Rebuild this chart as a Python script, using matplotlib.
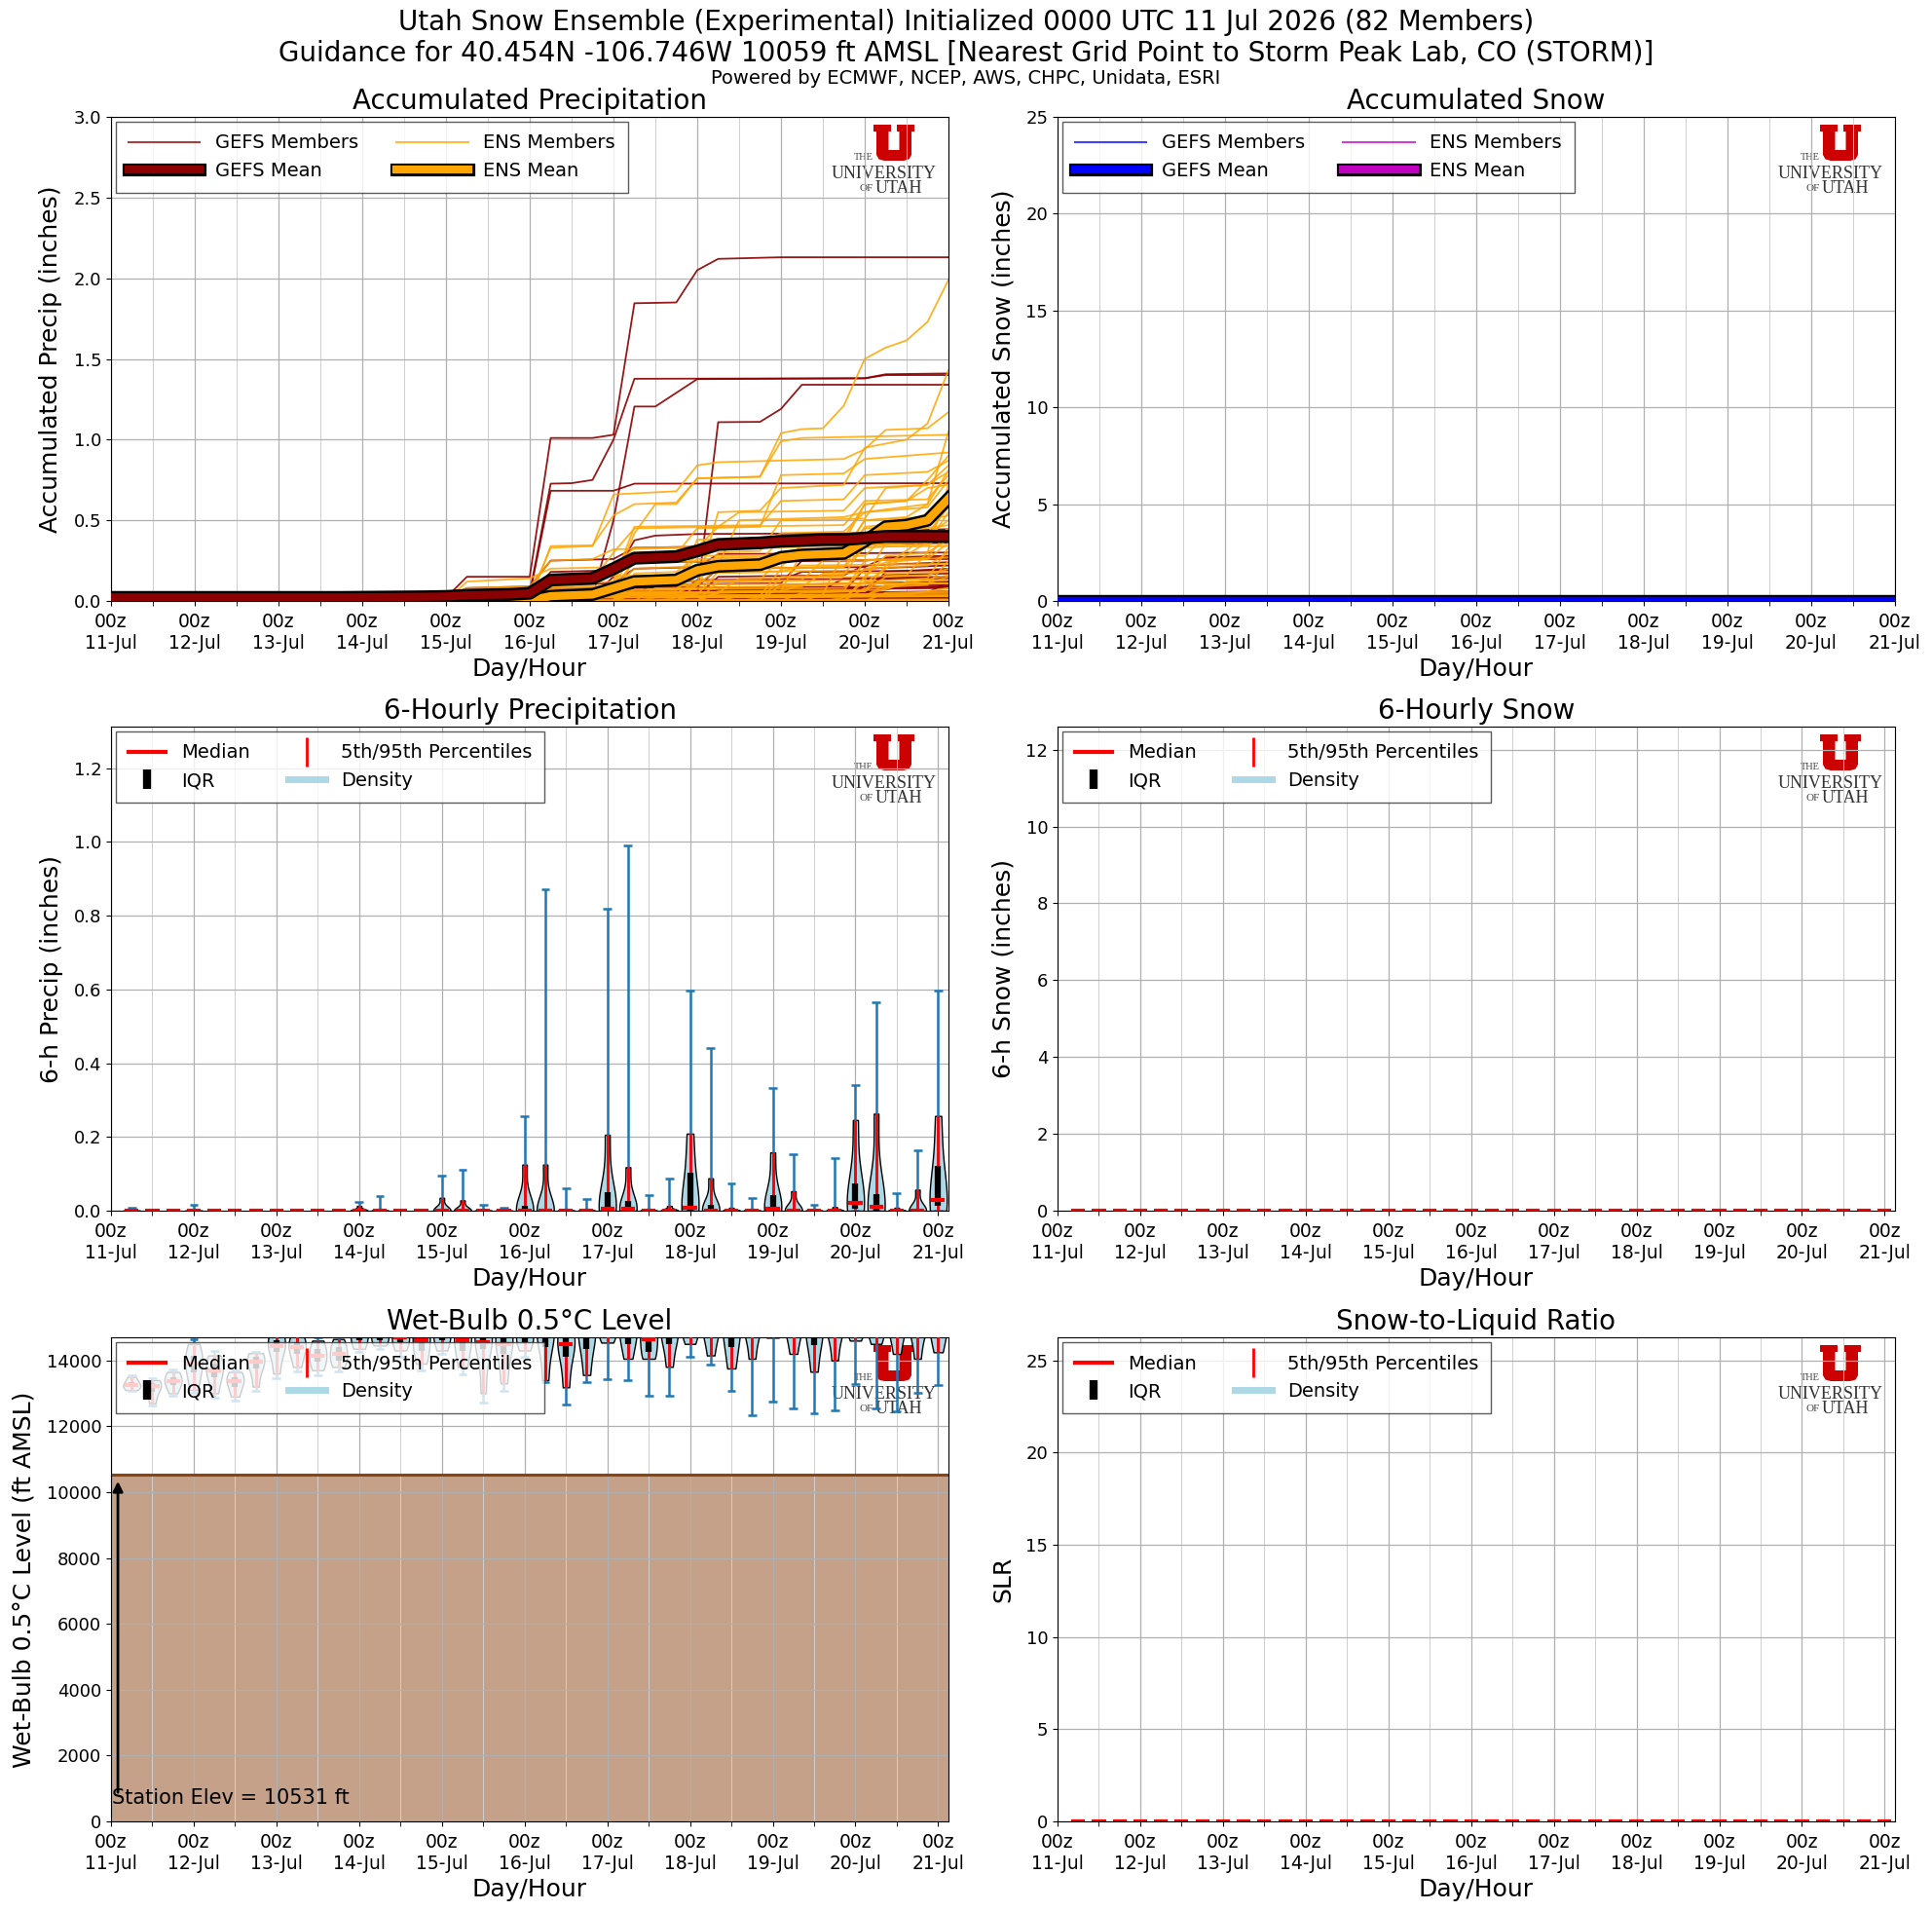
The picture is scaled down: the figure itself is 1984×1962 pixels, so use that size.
import numpy as np
import matplotlib
matplotlib.use('Agg')
import matplotlib.pyplot as plt
import matplotlib.patheffects as pe
from matplotlib.lines import Line2D
from matplotlib.patches import Polygon

plt.rcParams['font.family'] = ['DejaVu Sans']

# ---------------------------------------------------------------- data
DAY_LABELS = ['11-Jul', '12-Jul', '13-Jul', '14-Jul', '15-Jul', '16-Jul',
              '17-Jul', '18-Jul', '19-Jul', '20-Jul', '21-Jul']
MAJOR_HOURS = [0, 24, 48, 72, 96, 120, 144, 168, 192, 216, 240]
MINOR_HOURS = [12, 36, 60, 84, 108, 132, 156, 180, 204, 228]
MEAN_HOURS = [0, 6, 12, 18, 24, 30, 36, 42, 48, 54, 60, 66, 72, 78, 84, 90,
              96, 102, 108, 114, 120, 126, 132, 138, 144, 150, 156, 162, 168,
              174, 180, 186, 192, 198, 204, 210, 216, 222, 228, 234, 240]
PERIOD_HOURS = [6, 12, 18, 24, 30, 36, 42, 48, 54, 60, 66, 72, 78, 84, 90,
                96, 102, 108, 114, 120, 126, 132, 138, 144, 150, 156, 162,
                168, 174, 180, 186, 192, 198, 204, 210, 216, 222, 228, 234, 240]

GEFS_MEAN = [0.022, 0.022, 0.022, 0.022, 0.022, 0.022, 0.022, 0.022, 0.022,
             0.022, 0.022, 0.022, 0.023, 0.024, 0.025, 0.026, 0.028, 0.035,
             0.038, 0.040, 0.048, 0.130, 0.135, 0.140, 0.200, 0.265, 0.270,
             0.275, 0.310, 0.350, 0.355, 0.360, 0.370, 0.375, 0.380, 0.380,
             0.390, 0.400, 0.400, 0.400, 0.400]
ENS_MEAN = [0.0, 0.0, 0.0, 0.0, 0.0, 0.0, 0.0, 0.0, 0.0, 0.0, 0.0, 0.0, 0.0,
            0.0, 0.0, 0.0, 0.001, 0.001, 0.001, 0.002, 0.003, 0.030, 0.035,
            0.040, 0.080, 0.120, 0.125, 0.130, 0.190, 0.215, 0.220, 0.225,
            0.270, 0.285, 0.290, 0.295, 0.370, 0.460, 0.470, 0.500, 0.635]

# member breakpoints: (hour, accumulated inches)
GEFS_MEMBERS = [
    [(0, .02), (96, .02), (102, .15), (120, .15), (126, 1.01), (138, 1.01), (144, 1.03), (150, 1.845), (162, 1.85), (168, 2.05), (174, 2.12), (192, 2.13), (240, 2.13)],
    [(0, .02), (114, .02), (120, .05), (126, .727), (132, .73), (138, .75), (144, 1.0), (150, 1.377), (216, 1.38), (222, 1.40), (240, 1.40)],
    [(0, .02), (114, .02), (120, .04), (126, .683), (144, .683), (150, .727), (240, .73)],
    [(0, .02), (162, .02), (168, .03), (174, 1.108), (186, 1.11), (192, 1.19), (198, 1.34), (240, 1.34)],
    [(0, .02), (138, .03), (144, .5), (150, 1.205), (156, 1.205), (162, 1.29), (168, 1.375), (216, 1.38), (222, 1.405), (240, 1.41)],
    [(0, .02), (138, .03), (144, .15), (150, .376), (156, .405), (168, .415), (216, .42), (222, .435), (240, .445)],
    [(0, .02), (96, .02), (102, .08), (120, .09), (126, .25), (144, .26), (150, .33), (240, .36)],
    [(0, .02), (120, .03), (126, .10), (144, .11), (150, .20), (168, .21), (174, .29), (240, .30)],
    [(0, .02), (144, .02), (150, .08), (168, .09), (174, .20), (216, .21), (222, .27), (240, .28)],
    [(0, .02), (120, .03), (126, .05), (210, .06), (216, .20), (240, .22)],
    [(0, .02), (150, .03), (156, .12), (192, .13), (198, .18), (240, .19)],
    [(0, .02), (168, .02), (174, .07), (216, .08), (222, .16), (240, .17)],
    [(0, .02), (126, .03), (132, .06), (204, .07), (210, .14), (240, .15)],
    [(0, .02), (186, .02), (192, .10), (240, .12)],
    [(0, .02), (144, .03), (150, .06), (222, .07), (228, .10), (240, .10)],
    [(0, .02), (240, .03)],
    [(0, .02), (120, .02), (126, .04), (240, .05)],
    [(0, .02), (198, .02), (204, .05), (240, .06)],
    [(0, .01), (240, .015)],
    [(0, .02), (150, .02), (156, .04), (216, .05), (222, .08), (240, .09)],
    [(0, .02), (120, .03), (126, .18), (144, .19), (150, .24), (216, .25), (222, .26), (240, .27)],
    [(0, .02), (168, .03), (174, .15), (210, .16), (216, .22), (240, .24)],
    [(0, .02), (144, .02), (150, .10), (192, .11), (198, .25), (240, .26)],
    [(0, .03), (228, .03), (234, .05), (240, .12)],
    [(0, .02), (180, .02), (186, .04), (240, .05)],
    [(0, .02), (114, .02), (120, .06), (126, .08), (240, .09)],
    [(0, .02), (162, .03), (168, .13), (240, .14)],
    [(0, .02), (210, .02), (216, .04), (240, .04)],
    [(0, .01), (240, .02)],
    [(0, .02), (156, .02), (162, .03), (216, .04), (222, .18), (240, .20)],
    [(0, .02), (132, .02), (138, .04), (186, .05), (192, .07), (240, .08)],
]

ENS_MEMBERS = [
    [(0, 0), (120, 0), (126, .34), (138, .345), (144, .53), (150, .60), (162, .61), (168, .76), (186, .77), (192, 1.04), (198, 1.065), (204, 1.07), (210, 1.21), (216, 1.50), (222, 1.57), (228, 1.615), (234, 1.73), (240, 1.99)],
    [(0, 0), (138, .02), (144, .10), (150, .42), (156, .60), (162, .60), (168, .76), (186, .77), (192, .99), (198, 1.01), (240, 1.03)],
    [(0, 0), (114, 0), (120, .02), (126, .33), (138, .34), (144, .66), (162, .68), (168, .84), (174, .86), (210, .88), (216, .94), (222, 1.06), (234, 1.07), (240, 1.17)],
    [(0, 0), (162, .05), (168, .10), (174, .55), (186, .56), (192, .70), (210, .72), (216, .95), (228, 1.0), (234, 1.10), (240, 1.43)],
    [(0, 0), (144, 0), (150, .28), (162, .29), (168, .45), (186, .46), (192, .78), (210, .79), (216, .88), (240, .92)],
    [(0, 0), (120, 0), (126, .10), (144, .12), (150, .46), (186, .47), (192, .62), (210, .63), (216, .78), (234, .80), (240, .87)],
    [(0, 0), (96, 0), (102, .12), (120, .14), (126, .20), (144, .21), (150, .33), (186, .34), (192, .42), (210, .43), (216, .55), (234, .60), (240, .81)],
    [(0, 0), (138, 0), (144, .08), (150, .20), (174, .22), (180, .50), (210, .52), (216, .55), (234, .58), (240, .75)],
    [(0, 0), (120, 0), (126, .05), (162, .06), (168, .38), (210, .39), (216, .60), (228, .62), (234, .70), (240, .72)],
    [(0, 0), (144, 0), (150, .15), (168, .16), (174, .27), (210, .28), (216, .46), (234, .50), (240, .65)],
    [(0, 0), (168, 0), (174, .05), (192, .06), (198, .30), (210, .31), (216, .50), (234, .52), (240, .59)],
    [(0, 0), (120, 0), (126, .08), (144, .09), (150, .24), (186, .25), (192, .38), (216, .39), (222, .45), (240, .53)],
    [(0, 0), (102, 0), (108, .04), (120, .05), (126, .15), (162, .16), (168, .26), (210, .27), (216, .40), (240, .47)],
    [(0, 0), (150, 0), (156, .02), (186, .03), (192, .20), (210, .21), (216, .33), (234, .35), (240, .41)],
    [(0, 0), (126, 0), (132, .04), (162, .05), (168, .12), (198, .13), (204, .25), (234, .26), (240, .36)],
    [(0, 0), (144, 0), (150, .07), (210, .08), (216, .20), (234, .22), (240, .30)],
    [(0, 0), (120, 0), (126, .03), (168, .04), (174, .18), (216, .19), (222, .24), (240, .27)],
    [(0, 0), (210, 0), (216, .08), (234, .10), (240, .25)],
    [(0, 0), (144, 0), (150, .05), (216, .06), (222, .15), (234, .16), (240, .20)],
    [(0, 0), (186, 0), (192, .10), (234, .11), (240, .15)],
    [(0, 0), (120, 0), (126, .02), (240, .03)],
    [(0, 0), (168, 0), (174, .06), (222, .07), (228, .12), (240, .13)],
    [(0, 0), (216, 0), (222, .05), (240, .06)],
    [(0, 0), (240, .01)],
    [(0, 0), (144, 0), (150, .10), (162, .11), (168, .20), (192, .21), (198, .35), (210, .36), (216, .60), (228, .62), (234, .75), (240, .90)],
    [(0, 0), (120, 0), (126, .12), (138, .13), (144, .30), (150, .45), (174, .46), (180, .55), (210, .56), (216, .70), (234, .72), (240, .84)],
    [(0, 0), (162, 0), (168, .10), (174, .20), (210, .21), (216, .40), (228, .42), (234, .55), (240, .66)],
    [(0, 0), (96, 0), (102, .08), (120, .09), (126, .25), (138, .26), (144, .32), (168, .33), (174, .46), (210, .47), (216, .62), (234, .63), (240, .78)],
    [(0, 0), (186, 0), (192, .15), (210, .16), (216, .35), (234, .36), (240, .55)],
    [(0, 0), (144, 0), (150, .04), (174, .05), (180, .14), (216, .15), (222, .28), (234, .30), (240, .38)],
    [(0, 0), (120, 0), (126, .06), (162, .07), (168, .17), (192, .18), (198, .22), (240, .23)],
    [(0, 0), (150, 0), (156, .08), (198, .09), (204, .17), (240, .18)],
    [(0, 0), (126, 0), (132, .02), (216, .03), (222, .10), (240, .11)],
    [(0, 0), (174, 0), (180, .03), (240, .04)],
    [(0, 0), (204, 0), (210, .02), (216, .12), (234, .14), (240, .33)],
    [(0, 0), (138, 0), (144, .05), (192, .06), (198, .10), (216, .11), (222, .20), (240, .45)],
    [(0, 0), (120, 0), (126, .09), (168, .10), (174, .30), (186, .31), (192, .50), (216, .51), (222, .70), (234, .72), (240, .80)],
    [(0, 0), (144, 0), (150, .17), (162, .18), (168, .28), (210, .29), (216, .45), (234, .46), (240, .69)],
    [(0, 0), (168, 0), (174, .12), (216, .13), (222, .36), (234, .38), (240, .62)],
    [(0, 0), (192, 0), (198, .05), (216, .06), (222, .22), (240, .50)],
    [(0, 0), (120, 0), (126, .04), (144, .05), (150, .10), (240, .11)],
    [(0, 0), (156, 0), (162, .02), (240, .03)],
    [(0, 0), (198, 0), (204, .04), (240, .05)],
    [(0, 0), (132, 0), (138, .03), (228, .04), (234, .06), (240, .08)],
    [(0, 0), (240, 0)],
    [(0, 0), (144, 0), (150, .12), (186, .13), (192, .27), (216, .28), (222, .40), (234, .42), (240, .58)],
    [(0, 0), (162, 0), (168, .05), (210, .06), (216, .25), (234, .27), (240, .43)],
    [(0, 0), (180, 0), (186, .02), (216, .03), (222, .08), (240, .16)],
    [(0, 0), (210, 0), (216, .15), (228, .16), (234, .30), (240, .72)],
    [(0, 0), (120, 0), (126, .03), (204, .04), (210, .30), (216, .50), (228, .52), (234, .60), (240, 1.05)],
    [(0, 0), (138, 0), (144, .10), (150, .30), (168, .31), (174, .33), (240, .34)],
]

# 6-hourly precipitation distribution statistics (inches)
P6_MAX = [0.007, 0.003, 0.002, 0.015, 0.002, 0.002, 0.002, 0.002, 0.002, 0.002,
          0.002, 0.025, 0.040, 0.002, 0.002, 0.096, 0.111, 0.017, 0.009, 0.256,
          0.872, 0.061, 0.031, 0.818, 0.989, 0.043, 0.088, 0.596, 0.440, 0.073,
          0.035, 0.332, 0.152, 0.017, 0.143, 0.340, 0.564, 0.048, 0.165, 0.596]
P6_P95 = [0.001, 0.0, 0.0, 0.002, 0.0, 0.0, 0.0, 0.0, 0.0, 0.0,
          0.0, 0.013, 0.005, 0.0, 0.0, 0.035, 0.028, 0.003, 0.002, 0.125,
          0.125, 0.005, 0.005, 0.206, 0.118, 0.005, 0.013, 0.209, 0.088, 0.008,
          0.005, 0.158, 0.053, 0.003, 0.010, 0.246, 0.263, 0.008, 0.057, 0.257]
P6_P75 = [0.0, 0.0, 0.0, 0.0, 0.0, 0.0, 0.0, 0.0, 0.0, 0.0,
          0.0, 0.001, 0.0, 0.0, 0.0, 0.004, 0.003, 0.0, 0.0, 0.013,
          0.004, 0.0, 0.0, 0.051, 0.026, 0.0, 0.002, 0.104, 0.016, 0.001,
          0.0, 0.042, 0.006, 0.0, 0.001, 0.075, 0.046, 0.001, 0.004, 0.121]
P6_MED = [0.0, 0.0, 0.0, 0.0, 0.0, 0.0, 0.0, 0.0, 0.0, 0.0,
          0.0, 0.0, 0.0, 0.0, 0.0, 0.0, 0.0, 0.0, 0.0, 0.0,
          0.0, 0.0, 0.0, 0.006, 0.004, 0.0, 0.0, 0.007, 0.0, 0.0,
          0.0, 0.005, 0.0, 0.0, 0.0, 0.020, 0.011, 0.0, 0.0, 0.028]
P6_P25 = [0.0, 0.0, 0.0, 0.0, 0.0, 0.0, 0.0, 0.0, 0.0, 0.0,
          0.0, 0.0, 0.0, 0.0, 0.0, 0.0, 0.0, 0.0, 0.0, 0.0,
          0.0, 0.0, 0.0, 0.0, 0.0, 0.0, 0.0, 0.0, 0.0, 0.0,
          0.0, 0.0, 0.0, 0.0, 0.0, 0.004, 0.0, 0.0, 0.0, 0.012]
P6_P5 = [0.0] * 40
P6_MIN = [0.0] * 40

# wet-bulb 0.5C level distribution statistics (ft AMSL)
WB_MIN = [13064, 12621, 12916, 13000, 12867, 12788, 13064, 13458, 13655, 13557,
          13655, 14246, 14345, 14100, 13704, 14197, 13576, 12720, 13064, 14100,
          13330, 12660, 13350, 13429, 13409, 12936, 12936, 14108, 13882, 13084,
          12335, 12759, 12552, 12404, 12493, 13291, 12552, 12453, 13015, 13261]
WB_P5 = [13100, 12700, 13000, 13100, 13000, 12900, 13200, 13600, 13800, 13700,
         13800, 14350, 14450, 14300, 13900, 14300, 13800, 13000, 13300, 14300,
         13400, 13182, 13557, 14540, 14049, 14049, 13803, 14500, 14150, 13754,
         14049, 14690, 14197, 13655, 14000, 14600, 14500, 14197, 14049, 14246]
WB_P25 = [13200, 13050, 13250, 13650, 13500, 13200, 13750, 14250, 14200, 13950,
          14000, 14600, 14600, 14550, 14300, 14600, 14300, 14350, 14200, 14550,
          14394, 14099, 14345, 14750, 14500, 14250, 14500, 14800, 14750, 14400,
          14750, 14900, 14750, 14450, 14750, 14850, 14800, 14750, 14750, 14700]
WB_MED = [13242, 13212, 13360, 13900, 13704, 13360, 13951, 14443, 14394, 14148,
          14197, 14800, 14750, 14700, 14600, 14800, 14600, 14542, 14500, 14750,
          14750, 14493, 14750, 14900, 14800, 14640, 14800, 15000, 14950, 14800,
          15000, 15100, 15000, 14800, 15000, 15050, 15000, 15000, 15000, 14950]
WB_P75 = [13350, 13300, 13500, 14150, 13900, 13500, 14100, 14600, 14550, 14350,
          14400, 15000, 14900, 14900, 14900, 15000, 14900, 14800, 14800, 14950,
          15000, 14700, 15000, 15100, 15000, 14800, 15000, 15200, 15200, 15100,
          15200, 15300, 15200, 15100, 15200, 15250, 15200, 15200, 15200, 15200]
WB_P95 = [13500, 13400, 13650, 14500, 14150, 13650, 14220, 14900, 14800, 14600,
          14650, 15300, 15100, 15200, 15200, 15300, 15200, 15100, 15100, 15200,
          15300, 15000, 15300, 15400, 15300, 15100, 15300, 15500, 15500, 15400,
          15500, 15600, 15500, 15400, 15500, 15500, 15500, 15500, 15500, 15500]
WB_MAX = [13557, 13450, 13734, 14640, 14300, 13704, 14266, 15100, 15000, 14700,
          14750, 15500, 15300, 15400, 15400, 15500, 15400, 15300, 15300, 15400,
          15500, 15300, 15500, 15600, 15500, 15300, 15500, 15700, 15700, 15600,
          15700, 15800, 15700, 15600, 15700, 15700, 15700, 15700, 15700, 15700]
STATION_ELEV = 10531

# snow: every member and period is zero at this site
SNOW_ACC_MEAN = [0.0] * 41
SNOW6_MED = [0.0] * 40
SLR_MED = [0.0] * 40

# ---------------------------------------------------------------- figure
W, H = 1984, 1962
AX_W, AX_H = 860, 497
fig = plt.figure(figsize=(W / 100, H / 100), dpi=100)


def rect(col, row):
    lefts = [114, 1086]
    tops = [120, 746, 1373]
    return [lefts[col] / W, (H - tops[row] - AX_H) / H, AX_W / W, AX_H / H]


def time_axis(ax, xmax):
    ax.set_xlim(0, xmax)
    ax.set_xticks(MAJOR_HOURS)
    ax.set_xticklabels(['00z\n' + d for d in DAY_LABELS])
    ax.set_xticks(MINOR_HOURS, minor=True)
    ax.tick_params(axis='y', which='major', labelsize=13)
    ax.tick_params(axis='x', which='major', labelsize=13.5, pad=5)
    ax.tick_params(axis='x', which='minor', length=3.5)
    ax.grid(True, which='major', color='#b0b0b0', lw=0.9)
    ax.grid(True, which='minor', axis='x', color='#d0d0d0', lw=0.7)
    ax.set_xlabel('Day/Hour', fontsize=18)


def ylabel(ax, text):
    ax.set_ylabel(text, fontsize=18, labelpad=8)


# block-U outline in pixels (x right, y down), top-left of the logo mark
U_SHAPE = [(0, 0), (18, 0), (18, 7), (15.5, 7), (15.5, 26), (26.5, 26),
           (26.5, 7), (24, 7), (24, 0), (42, 0), (42, 7), (39, 7), (39, 31),
           (36.5, 35.5), (31, 37), (11, 37), (5.5, 35.5), (3, 31), (3, 7),
           (0, 7)]


def logo(ax):
    ox, oy = 783, 8
    pts = [((ox + x) / AX_W, 1 - (oy + y) / AX_H) for x, y in U_SHAPE]
    ax.add_patch(Polygon(pts, closed=True, transform=ax.transAxes,
                         facecolor='#cc0000', edgecolor='none', zorder=1.2))
    kw = dict(transform=ax.transAxes, ha='center', va='center', zorder=1.2,
              family='Liberation Serif')
    ax.text(0.8985, 0.9165, 'THE', fontsize=7.5, color='#444444', **kw)
    ax.text(0.9227, 0.882, 'UNIVERSITY', fontsize=13, color='#333333', **kw)
    ax.text(0.9015, 0.853, 'OF', fontsize=8, color='#444444', **kw)
    ax.text(0.9405, 0.853, 'UTAH', fontsize=13, color='#333333', **kw)


def mean_line(ax, x, y, color):
    return ax.plot(x, y, color=color, lw=6, solid_capstyle='projecting',
                   path_effects=[pe.Stroke(linewidth=9.5, foreground='black'),
                                 pe.Normal()], zorder=3)[0]


def mean_handle(color):
    return Line2D([0], [0], color=color, lw=6, solid_capstyle='projecting',
                  path_effects=[pe.Stroke(linewidth=9.5, foreground='black',
                                          capstyle='projecting'),
                                pe.Normal()])


LEG_KW = dict(ncol=2, loc='upper left', fontsize=14, fancybox=False,
              edgecolor='0.2', framealpha=0.8, borderpad=0.65,
              borderaxespad=0.25)


def violin_legend(ax):
    h = [Line2D([0], [0], color='red', lw=3),
         Line2D([], [], color='black', marker='|', ls='None', ms=14, mew=6),
         Line2D([], [], color='red', marker='|', ls='None', ms=21, mew=2),
         Line2D([0], [0], color='lightblue', lw=5)]
    lab = ['Median', 'IQR', '5th/95th Percentiles', 'Density']
    leg = ax.legend(h, lab, **LEG_KW)
    leg.set_zorder(10)


def violins(ax, mins, p5, p25, med, p75, p95, maxs):
    pos = np.array(PERIOD_HOURS, dtype=float)
    body_pos, body_data = [], []
    for x, a, b, c, d, e in zip(pos, p5, p25, med, p75, p95):
        if e > a:
            body_pos.append(x)
            body_data.append([a, b, c, d, e])
    vp = ax.violinplot(body_data, positions=body_pos, widths=5,
                       showextrema=False)
    for b in vp['bodies']:
        b.set_facecolor('lightblue')
        b.set_edgecolor('black')
        b.set_alpha(1)
        b.set_linewidth(1)
        b.set_zorder(2)
    ax.vlines(pos, mins, maxs, color='#1f77b4', lw=1.8, zorder=2.5)
    ax.hlines(mins, pos - 1.25, pos + 1.25, color='#1f77b4', lw=1.8, zorder=2.5)
    ax.hlines(maxs, pos - 1.25, pos + 1.25, color='#1f77b4', lw=1.8, zorder=2.5)
    ax.vlines(pos, p5, p95, color='red', lw=2, zorder=3)
    ax.vlines(pos, p25, p75, color='black', lw=4.5, zorder=4)
    ax.hlines(med, pos - 2, pos + 2, color='red', lw=3, zorder=5)


# ---- Accumulated precipitation
ax = fig.add_axes(rect(0, 0))
for m in GEFS_MEMBERS:
    ax.plot([p[0] for p in m], [p[1] for p in m], color='darkred', lw=1.3,
            alpha=0.9, zorder=2)
for m in ENS_MEMBERS:
    ax.plot([p[0] for p in m], [p[1] for p in m], color='orange', lw=1.3,
            alpha=0.85, zorder=2)
mean_line(ax, MEAN_HOURS, ENS_MEAN, 'orange')
mean_line(ax, MEAN_HOURS, GEFS_MEAN, 'darkred')
time_axis(ax, 240)
ax.set_ylim(0, 3.0)
ax.set_yticks([0, 0.5, 1.0, 1.5, 2.0, 2.5, 3.0])
ax.set_yticklabels(['0.0', '0.5', '1.0', '1.5', '2.0', '2.5', '3.0'])
ylabel(ax, 'Accumulated Precip (inches)')
ax.set_title('Accumulated Precipitation', fontsize=20)
h = [Line2D([0], [0], color='darkred', lw=1.5, alpha=0.75), mean_handle('darkred'),
     Line2D([0], [0], color='orange', lw=1.5, alpha=0.75), mean_handle('orange')]
leg = ax.legend(h, ['GEFS Members', 'GEFS Mean', 'ENS Members', 'ENS Mean'],
                handlelength=3.8, **LEG_KW)
leg.set_zorder(10)
logo(ax)

# ---- Accumulated snow
ax = fig.add_axes(rect(1, 0))
mean_line(ax, MEAN_HOURS, SNOW_ACC_MEAN, 'm')
mean_line(ax, MEAN_HOURS, SNOW_ACC_MEAN, 'blue')
time_axis(ax, 240)
ax.set_ylim(0, 25)
ax.set_yticks([0, 5, 10, 15, 20, 25])
ylabel(ax, 'Accumulated Snow (inches)')
ax.set_title('Accumulated Snow', fontsize=20)
h = [Line2D([0], [0], color='blue', lw=1.5, alpha=0.75), mean_handle('blue'),
     Line2D([0], [0], color='m', lw=1.5, alpha=0.75), mean_handle('m')]
leg = ax.legend(h, ['GEFS Members', 'GEFS Mean', 'ENS Members', 'ENS Mean'],
                handlelength=3.8, **LEG_KW)
leg.set_zorder(10)
logo(ax)

# ---- 6-hourly precipitation
ax = fig.add_axes(rect(0, 1))
violins(ax, P6_MIN, P6_P5, P6_P25, P6_MED, P6_P75, P6_P95, P6_MAX)
time_axis(ax, 243)
ax.set_ylim(0, 1.3125)
ax.set_yticks([0, 0.2, 0.4, 0.6, 0.8, 1.0, 1.2])
ax.set_yticklabels(['0.0', '0.2', '0.4', '0.6', '0.8', '1.0', '1.2'])
ylabel(ax, '6-h Precip (inches)')
ax.set_title('6-Hourly Precipitation', fontsize=20)
violin_legend(ax)
logo(ax)

# ---- 6-hourly snow
ax = fig.add_axes(rect(1, 1))
pos = np.array(PERIOD_HOURS, dtype=float)
ax.hlines(SNOW6_MED, pos - 2, pos + 2, color='red', lw=3, zorder=5)
time_axis(ax, 243)
ax.set_ylim(0, 12.6)
ax.set_yticks([0, 2, 4, 6, 8, 10, 12])
ylabel(ax, '6-h Snow (inches)')
ax.set_title('6-Hourly Snow', fontsize=20)
violin_legend(ax)
logo(ax)

# ---- Wet-bulb level
ax = fig.add_axes(rect(0, 2))
ax.axhspan(0, STATION_ELEV, color='saddlebrown', alpha=0.5, lw=0, zorder=1)
ax.axhline(STATION_ELEV, color='saddlebrown', lw=2.2, zorder=1.6)
violins(ax, WB_MIN, WB_P5, WB_P25, WB_MED, WB_P75, WB_P95, WB_MAX)
time_axis(ax, 243)
ax.set_ylim(0, 14700)
ax.set_yticks([0, 2000, 4000, 6000, 8000, 10000, 12000, 14000])
ylabel(ax, 'Wet-Bulb 0.5°C Level (ft AMSL)')
ax.set_title('Wet-Bulb 0.5°C Level', fontsize=20)
ax.annotate('', xy=(2, STATION_ELEV - 120), xytext=(2, 800),
            arrowprops=dict(arrowstyle='-|>', color='black', lw=2,
                            mutation_scale=15), zorder=6)
ax.text(0.4, 420, 'Station Elev = %d ft' % STATION_ELEV, fontsize=15,
        ha='left', va='bottom', zorder=6)
violin_legend(ax)
logo(ax)

# ---- SLR
ax = fig.add_axes(rect(1, 2))
ax.hlines(SLR_MED, pos - 2, pos + 2, color='red', lw=3, zorder=5)
time_axis(ax, 243)
ax.set_ylim(0, 26.25)
ax.set_yticks([0, 5, 10, 15, 20, 25])
ylabel(ax, 'SLR')
ax.set_title('Snow-to-Liquid Ratio', fontsize=20)
violin_legend(ax)
logo(ax)

# ---- titles
fig.text(0.5, 1 - 23 / H,
         'Utah Snow Ensemble (Experimental) Initialized 0000 UTC 11 Jul 2026 (82 Members)',
         ha='center', va='center', fontsize=20)
fig.text(0.5, 1 - 55 / H,
         'Guidance for 40.454N -106.746W 10059 ft AMSL [Nearest Grid Point to Storm Peak Lab, CO (STORM)]',
         ha='center', va='center', fontsize=20)
fig.text(0.5, 1 - 81 / H, 'Powered by ECMWF, NCEP, AWS, CHPC, Unidata, ESRI',
         ha='center', va='center', fontsize=14)

fig.savefig('out.png', dpi=100)
